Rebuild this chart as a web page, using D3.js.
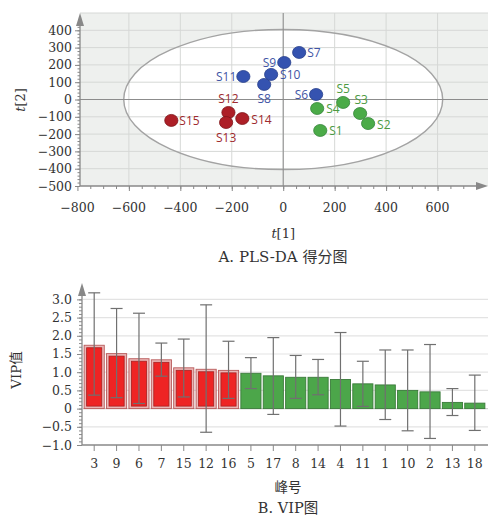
<!DOCTYPE html>
<html>
<head>
<meta charset="utf-8">
<script src="https://cdn.jsdelivr.net/npm/d3@7/dist/d3.min.js"></script>
<style>
  body { margin: 0; background: #fff; }
  svg { display: block; }
  .serif { font-family: "DejaVu Serif", "Noto Sans CJK SC", serif; fill: #333; }
  .lbl { font-family: "Open Sans", "DejaVu Sans", sans-serif; font-size: 12px; }
</style>
</head>
<body>
<svg id="chart" width="488" height="519"></svg>
<script>
// ---- data: PLS-DA scores ----
var samples = ["S1","S2","S3","S4","S5","S6","S7","S8","S9","S10","S11","S12","S13","S14","S15"];
var t1 = [144, 330, 299, 132, 233, 128, 62, -74, 4, -47, -155, -213, -222, -159, -435];
var t2 = [-179, -139, -81, -52, -17, 29, 272, 87, 214, 145, 133, -75, -133, -110, -121];
var groups = ["g","g","g","g","g","b","b","b","b","b","b","r","r","r","r"];
var xTicksA = [-800, -600, -400, -200, 0, 200, 400, 600];
var yTicksA = [400, 300, 200, 100, 0, -100, -200, -300, -400, -500];

// ---- data: VIP ----
var peaks = ["3","9","6","7","15","12","16","5","17","8","14","4","11","1","10","2","13","18"];
var vip = [1.74, 1.51, 1.37, 1.34, 1.12, 1.08, 1.05, 0.97, 0.90, 0.86, 0.86, 0.80, 0.68, 0.65, 0.50, 0.46, 0.17, 0.15];
var vipHi = [3.18, 2.75, 2.62, 1.80, 1.91, 2.85, 1.85, 1.40, 1.95, 1.46, 1.35, 2.09, 1.30, 1.61, 1.61, 1.76, 0.55, 0.92];
var vipLo = [0.37, 0.30, 0.14, 0.89, 0.32, -0.65, 0.28, 0.55, -0.16, 0.28, 0.38, -0.48, 0.06, -0.30, -0.61, -0.82, -0.19, -0.60];
var redCount = 7;
var yTicksB = [3.0, 2.5, 2.0, 1.5, 1.0, 0.5, 0, -0.5, -1.0];

var svg = d3.select("#chart");
var fmtMinus = function(s){ return String(s).replace("-", "\u2212"); };

// label placement around each point (layout only)
var labelPos = {
  S1:[9,1,"start"], S2:[9,1,"start"], S3:[1,-14,"middle"], S4:[9,1,"start"], S5:[0,-13,"middle"],
  S6:[-8,1,"end"], S7:[8,1,"start"], S8:[0,15,"middle"], S9:[-8,1,"end"], S10:[9,1,"start"],
  S11:[-7,1,"end"], S12:[0,-13,"middle"], S13:[0,15,"middle"], S14:[9,1,"start"], S15:[8,1,"start"]
};
var ptFill = { r: "#ad1f27", b: "#3553b0", g: "#4bab48" };
var ptStroke = { r: "#7d1419", b: "#273f8a", g: "#35843a" };
var txtFill = { r: "#9e2a2e", b: "#3f55a5", g: "#4c9a42" };

// ================= A. scores plot =================
var x = d3.scaleLinear().domain([-790, 800]).range([80, 489]);
var y = d3.scaleLinear().domain([-500, 500]).range([186, 13]);

var gA = svg.append("g");
gA.append("rect").attr("x", 80).attr("y", 13).attr("width", 409).attr("height", 173).attr("fill", "#eef0ee");

gA.append("ellipse")
  .attr("cx", x(0)).attr("cy", y(0))
  .attr("rx", x(620) - x(0)).attr("ry", y(0) - y(405))
  .attr("fill", "#fff");

// grid
gA.append("g").selectAll("line").data(d3.range(-600, 801, 200)).enter().append("line")
  .attr("x1", function(d){ return x(d); }).attr("x2", function(d){ return x(d); })
  .attr("y1", 13).attr("y2", 186).attr("stroke", "#d6d8d6").attr("stroke-width", 1);
gA.append("g").selectAll("line").data(d3.range(-400, 501, 100)).enter().append("line")
  .attr("x1", 80).attr("x2", 489)
  .attr("y1", function(d){ return y(d); }).attr("y2", function(d){ return y(d); })
  .attr("stroke", "#d6d8d6").attr("stroke-width", 1);

gA.append("ellipse")
  .attr("cx", x(0)).attr("cy", y(0))
  .attr("rx", x(620) - x(0)).attr("ry", y(0) - y(405))
  .attr("fill", "none").attr("stroke", "#a3a3a3").attr("stroke-width", 1.4);

// zero lines
gA.append("line").attr("x1", 80).attr("x2", 489).attr("y1", y(0)).attr("y2", y(0)).attr("stroke", "#8c8c8c");
gA.append("line").attr("x1", x(0)).attr("x2", x(0)).attr("y1", 13).attr("y2", 186).attr("stroke", "#8c8c8c");

// axes
var axA_x = gA.append("g").attr("transform", "translate(0,186)");
axA_x.call(d3.axisBottom(x).tickValues(d3.range(-750, 800, 50)).tickSize(3).tickFormat(""));
axA_x.append("g").call(d3.axisBottom(x).tickValues(xTicksA).tickSize(5).tickFormat(""));
axA_x.selectAll("path,line").attr("stroke", "#888");
axA_x.selectAll(".domain").remove();
gA.append("line").attr("x1", 80).attr("x2", 478).attr("y1", 186).attr("y2", 186).attr("stroke", "#888").attr("stroke-width", 1.3);
gA.append("path").attr("d", "M476,182 L488,186 L476,190 Z").attr("fill", "#888");

gA.selectAll(".xtA").data(xTicksA).enter().append("text")
  .attr("class", "serif").attr("x", function(d){ return x(d); }).attr("y", 212)
  .attr("text-anchor", "middle").attr("font-size", 12.5).text(fmtMinus);

var axA_y = gA.append("g").attr("transform", "translate(80,0)");
axA_y.call(d3.axisLeft(y).tickValues(d3.range(-500, 460, 20)).tickSize(2.5).tickFormat(""));
axA_y.append("g").call(d3.axisLeft(y).tickValues(yTicksA).tickSize(5).tickFormat(""));
axA_y.selectAll("path,line").attr("stroke", "#888");
axA_y.selectAll(".domain").remove();
gA.append("line").attr("x1", 80).attr("x2", 80).attr("y1", 186).attr("y2", 22).attr("stroke", "#888").attr("stroke-width", 1.3);
gA.append("path").attr("d", "M76,26 L80,13 L84,26 Z").attr("fill", "#888");

gA.selectAll(".ytA").data(yTicksA).enter().append("text")
  .attr("class", "serif").attr("x", 72).attr("y", function(d){ return y(d) + 4.5; })
  .attr("text-anchor", "end").attr("font-size", 12.5).text(fmtMinus);

// axis titles
var tx = gA.append("text").attr("class", "serif").attr("x", x(0)).attr("y", 238)
  .attr("text-anchor", "middle").attr("font-size", 13);
tx.append("tspan").attr("font-style", "italic").text("t");
tx.append("tspan").text("[1]");
var ty = gA.append("text").attr("class", "serif").attr("transform", "translate(25,100) rotate(-90)")
  .attr("text-anchor", "middle").attr("font-size", 13);
ty.append("tspan").attr("font-style", "italic").text("t");
ty.append("tspan").text("[2]");
gA.append("text").attr("class", "serif").attr("x", 283).attr("y", 262)
  .attr("text-anchor", "middle").attr("font-size", 15).text("A. PLS-DA 得分图");

// points
var pts = samples.map(function(s, i){ return { name: s, t1: t1[i], t2: t2[i], g: groups[i] }; });
gA.selectAll(".pt").data(pts).enter().append("ellipse")
  .attr("cx", function(d){ return x(d.t1); }).attr("cy", function(d){ return y(d.t2); })
  .attr("rx", 6.6).attr("ry", 6)
  .attr("fill", function(d){ return ptFill[d.g]; })
  .attr("stroke", function(d){ return ptStroke[d.g]; }).attr("stroke-width", 0.8);
gA.selectAll(".pl").data(pts).enter().append("text")
  .attr("class", "lbl")
  .attr("x", function(d){ return x(d.t1) + labelPos[d.name][0]; })
  .attr("y", function(d){ return y(d.t2) + labelPos[d.name][1] + 4; })
  .attr("text-anchor", function(d){ return labelPos[d.name][2]; })
  .attr("fill", function(d){ return txtFill[d.g]; })
  .text(function(d){ return d.name; });

// ================= B. VIP plot =================
var xb = d3.scaleBand().domain(peaks).range([83, 486]).paddingInner(0.1).paddingOuter(0.05);
var yb = d3.scaleLinear().domain([-1, 3.45]).range([445, 283]);
var gB = svg.append("g");

gB.append("g").selectAll("line").data([-0.5, 0, 0.5, 1, 1.5, 2, 2.5, 3]).enter().append("line")
  .attr("x1", 83).attr("x2", 488)
  .attr("y1", function(d){ return yb(d); }).attr("y2", function(d){ return yb(d); })
  .attr("stroke", function(d){ return d === 0 ? "#cfcfcf" : "#e3e3e3"; }).attr("stroke-width", 1.2);

var vd = peaks.map(function(p, i){ return { p: p, v: vip[i], hi: vipHi[i], lo: vipLo[i], red: i < redCount }; });

var bars = gB.selectAll(".bar").data(vd).enter().append("g");
bars.filter(function(d){ return d.red; }).append("rect")
  .attr("x", function(d){ return xb(d.p); }).attr("y", function(d){ return yb(d.v); })
  .attr("width", xb.bandwidth()).attr("height", function(d){ return yb(0) - yb(d.v); })
  .attr("fill", "#eab6b6").attr("stroke", "#b85a5a").attr("stroke-width", 0.9);
bars.filter(function(d){ return d.red; }).append("rect")
  .attr("x", function(d){ return xb(d.p) + 2.5; }).attr("y", function(d){ return yb(d.v) + 2.5; })
  .attr("width", xb.bandwidth() - 5).attr("height", function(d){ return yb(0) - yb(d.v) - 5; })
  .attr("fill", "#ee2424").attr("stroke", "#a82020").attr("stroke-width", 0.8);
bars.filter(function(d){ return !d.red; }).append("rect")
  .attr("x", function(d){ return xb(d.p); }).attr("y", function(d){ return yb(d.v); })
  .attr("width", xb.bandwidth()).attr("height", function(d){ return yb(0) - yb(d.v); })
  .attr("fill", "#4ca64a").attr("stroke", "#3a7a3a").attr("stroke-width", 0.9);

// error bars
var eb = gB.selectAll(".eb").data(vd).enter().append("g").attr("stroke", "#707070").attr("stroke-width", 1.2);
eb.append("line")
  .attr("x1", function(d){ return xb(d.p) + xb.bandwidth() / 2; }).attr("x2", function(d){ return xb(d.p) + xb.bandwidth() / 2; })
  .attr("y1", function(d){ return yb(d.hi); }).attr("y2", function(d){ return yb(d.lo); });
eb.append("line")
  .attr("x1", function(d){ return xb(d.p) + xb.bandwidth() / 2 - 6; }).attr("x2", function(d){ return xb(d.p) + xb.bandwidth() / 2 + 6; })
  .attr("y1", function(d){ return yb(d.hi); }).attr("y2", function(d){ return yb(d.hi); });
eb.append("line")
  .attr("x1", function(d){ return xb(d.p) + xb.bandwidth() / 2 - 6; }).attr("x2", function(d){ return xb(d.p) + xb.bandwidth() / 2 + 6; })
  .attr("y1", function(d){ return yb(d.lo); }).attr("y2", function(d){ return yb(d.lo); });

// axes
var axB_x = gB.append("g").attr("transform", "translate(0,445)");
axB_x.call(d3.axisBottom(xb).tickSize(6).tickSizeOuter(0).tickFormat(""));
axB_x.selectAll("line").attr("stroke", "#888");
axB_x.select(".domain").remove();
gB.append("line").attr("x1", 82).attr("x2", 488).attr("y1", 445).attr("y2", 445).attr("stroke", "#888").attr("stroke-width", 1.3);
gB.selectAll(".xtB").data(peaks).enter().append("text")
  .attr("class", "serif").attr("x", function(d){ return xb(d) + xb.bandwidth() / 2; }).attr("y", 468)
  .attr("text-anchor", "middle").attr("font-size", 12.5).text(function(d){ return d; });

var axB_y = gB.append("g").attr("transform", "translate(82,0)");
axB_y.call(d3.axisLeft(yb).tickValues(d3.range(-10, 31, 1).map(function(d){ return d / 10; })).tickSize(3).tickFormat(""));
axB_y.append("g").call(d3.axisLeft(yb).tickValues(yTicksB).tickSize(5).tickFormat(""));
axB_y.selectAll("path,line").attr("stroke", "#888");
axB_y.selectAll(".domain").remove();
gB.append("line").attr("x1", 82).attr("x2", 82).attr("y1", 445).attr("y2", 292).attr("stroke", "#888").attr("stroke-width", 1.3);
gB.append("path").attr("d", "M78,296 L82,283 L86,296 Z").attr("fill", "#888");

gB.selectAll(".ytB").data(yTicksB).enter().append("text")
  .attr("class", "serif").attr("x", 72).attr("y", function(d){ return yb(d) + 4.5; })
  .attr("text-anchor", "end").attr("font-size", 12.5)
  .text(function(d){ return d === 0 ? "0" : fmtMinus(d.toFixed(1)); });

gB.append("text").attr("class", "serif").attr("transform", "translate(21,370) rotate(-90)")
  .attr("text-anchor", "middle").attr("font-size", 13.5).text("VIP值");
gB.append("text").attr("class", "serif").attr("x", 288).attr("y", 492)
  .attr("text-anchor", "middle").attr("font-size", 13.5).text("峰号");
gB.append("text").attr("class", "serif").attr("x", 288).attr("y", 513)
  .attr("text-anchor", "middle").attr("font-size", 14.5).text("B. VIP图");
</script>
</body>
</html>
